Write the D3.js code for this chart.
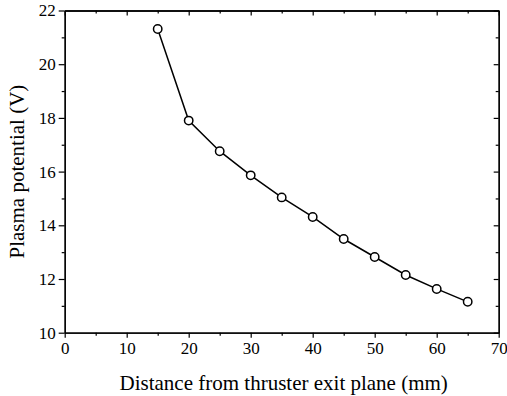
<!DOCTYPE html>
<html><head><meta charset="utf-8">
<script src="https://cdn.jsdelivr.net/npm/d3@7"></script>
<style>body{margin:0;background:#fff}svg{display:block}</style>
</head><body><svg id="c" width="507" height="396"></svg>
<script>
const distance = [15,20,25,30,35,40,45,50,55,60,65];
const potential = [21.31,17.90,16.76,15.86,15.04,14.31,13.49,12.82,12.15,11.63,11.15];
const xTicks = [0,10,20,30,40,50,60,70];
const yTicks = [10,12,14,16,18,20,22];
const xLabel = "Distance from thruster exit plane (mm)";
const yLabel = "Plasma potential (V)";

const FONT = "Liberation Serif";
const svg = d3.select("#c");
const L=64.7, R=498.7, T=10.5, B=332.7;
const x = d3.scaleLinear().domain([0,70]).range([L,R]);
const y = d3.scaleLinear().domain([10,22]).range([B,T]);
const xMinor = d3.range(5,70,10), yMinor = d3.range(11,22,2);

function styleAxis(g){
  g.attr("font-family",FONT).attr("font-size",17);
  g.selectAll("path").attr("stroke","#000").attr("stroke-width",1.3);
  g.selectAll("line").attr("stroke","#000").attr("stroke-width",1.2);
  g.selectAll("text").attr("fill","#000");
}

svg.append("g").attr("transform",`translate(0,${B})`).call(d3.axisBottom(x).tickValues(xTicks).tickSize(5).tickPadding(4).tickSizeOuter(0)).call(styleAxis);
svg.append("g").attr("transform",`translate(0,${B})`).call(d3.axisBottom(x).tickValues(xMinor).tickSize(3).tickFormat("").tickSizeOuter(0)).call(styleAxis);
svg.append("g").attr("transform",`translate(${L},0)`).call(d3.axisLeft(y).tickValues(yTicks).tickSize(6).tickPadding(3).tickSizeOuter(0)).call(styleAxis);
svg.append("g").attr("transform",`translate(${L},0)`).call(d3.axisLeft(y).tickValues(yMinor).tickSize(3).tickFormat("").tickSizeOuter(0)).call(styleAxis);
svg.append("g").attr("transform",`translate(0,${T})`).call(d3.axisBottom(x).tickValues(xTicks).tickSize(5).tickFormat("").tickSizeOuter(0)).call(styleAxis);
svg.append("g").attr("transform",`translate(0,${T})`).call(d3.axisBottom(x).tickValues(xMinor).tickSize(3).tickFormat("").tickSizeOuter(0)).call(styleAxis);
svg.append("g").attr("transform",`translate(${R},0)`).call(d3.axisLeft(y).tickValues(yTicks).tickSize(5).tickFormat("").tickSizeOuter(0)).call(styleAxis);
svg.append("g").attr("transform",`translate(${R},0)`).call(d3.axisLeft(y).tickValues(yMinor).tickSize(3).tickFormat("").tickSizeOuter(0)).call(styleAxis);

const data = distance.map((d,i)=>({x:d,y:potential[i]}));
svg.append("path").datum(data).attr("fill","none").attr("stroke","#000").attr("stroke-width",1.5)
  .attr("d", d3.line().x(d=>x(d.x)).y(d=>y(d.y)));
svg.selectAll("circle.pt").data(data).enter().append("circle").attr("class","pt")
  .attr("cx",d=>x(d.x)).attr("cy",d=>y(d.y)).attr("r",4.2)
  .attr("fill","#fff").attr("stroke","#000").attr("stroke-width",1.5);

svg.append("text").attr("x",(L+R)/2+2).attr("y",390).attr("text-anchor","middle")
  .attr("font-family",FONT).attr("font-size",21).attr("fill","#000").text(xLabel);
svg.append("text").attr("transform",`translate(24,${(T+B)/2}) rotate(-90)`).attr("text-anchor","middle")
  .attr("font-family",FONT).attr("font-size",21).attr("fill","#000").text(yLabel);
</script></body></html>
